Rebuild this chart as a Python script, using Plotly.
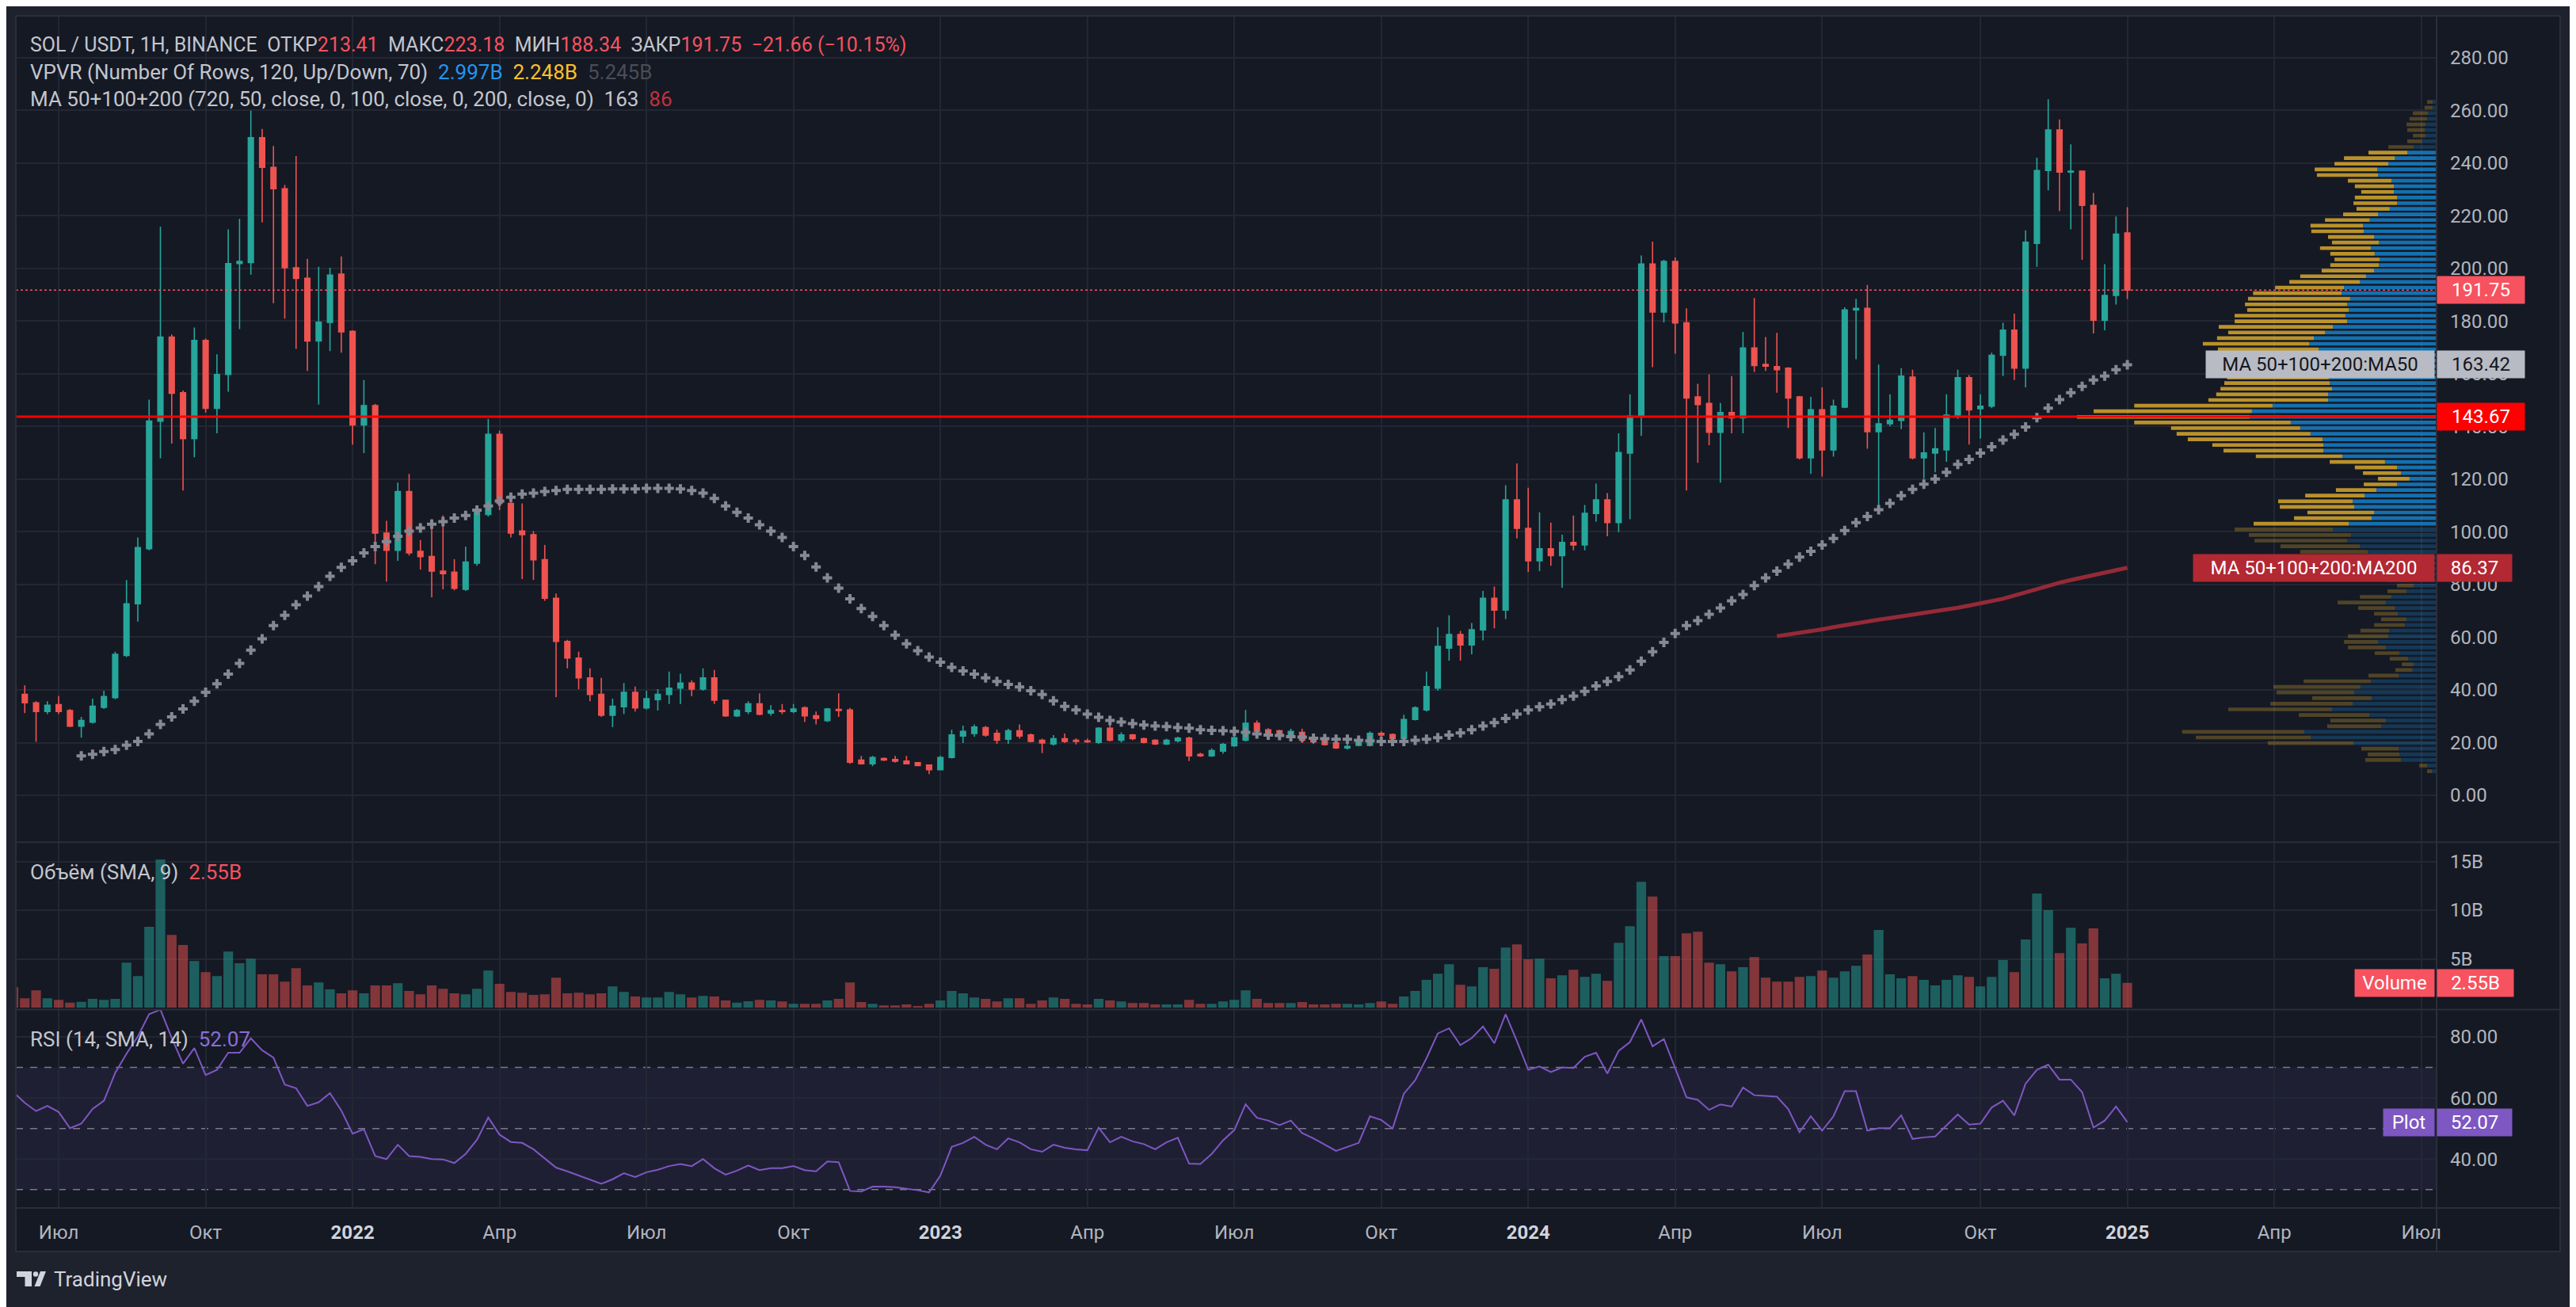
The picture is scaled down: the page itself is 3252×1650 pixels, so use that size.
import pandas as pd
import plotly.graph_objects as go

# weekly SOL/USDT bars, first bar = week of 2021-06-07
START = "2021-06-07"

OPEN = [
    42.0, 38.3, 35.1, 31.8, 34.4, 32.2, 26.3, 27.8, 33.4, 37.1,
    53.1, 72.7, 93.6, 142.0, 173.9, 152.8, 135.4, 172.6, 146.9, 159.7,
    201.8, 202.2, 249.6, 238.3, 230.2, 200.2, 196.2, 172.4, 179.5, 197.8,
    176.1, 140.6, 147.9, 99.5, 93.0, 115.3, 92.6, 90.6, 85.1, 84.7,
    78.2, 88.1, 106.6, 137.0, 110.8, 100.3, 98.9, 89.4, 74.8, 58.4,
    52.1, 44.6, 38.3, 30.4, 33.6, 39.1, 33.2, 36.3, 38.3, 40.7,
    42.6, 40.3, 44.6, 36.1, 30.2, 31.8, 34.7, 31.2, 32.2, 31.8,
    33.2, 30.2, 28.4, 32.6, 32.4, 13.4, 12.0, 14.0, 13.6, 13.0,
    12.4, 11.5, 9.7, 14.4, 22.5, 23.5, 25.7, 23.5, 21.3, 24.5,
    22.9, 20.9, 19.5, 21.5, 20.9, 20.7, 20.1, 25.5, 20.9, 22.9,
    21.5, 20.9, 19.5, 20.7, 21.7, 15.6, 15.0, 16.8, 18.8, 20.9,
    27.4, 24.9, 24.5, 21.9, 23.9, 21.9, 21.3, 19.9, 18.0, 19.0,
    19.0, 23.5, 23.1, 21.5, 28.8, 32.4, 40.7, 55.9, 61.0, 57.1,
    62.8, 74.8, 70.3, 112.1, 101.3, 89.0, 93.6, 91.0, 96.0, 95.0,
    107.0, 112.1, 103.5, 129.9, 143.9, 201.6, 183.4, 202.6, 179.3, 151.2,
    148.7, 137.8, 145.3, 143.3, 169.8, 163.5, 162.7, 162.1, 151.2, 128.1,
    146.3, 131.1, 147.3, 184.2, 184.8, 138.0, 141.0, 142.3, 158.7, 128.1,
    129.9, 131.1, 144.3, 158.5, 146.7, 147.7, 167.0, 176.5, 162.1, 209.5,
    237.1, 252.5, 236.5, 236.9, 223.9, 180.3, 189.7, 213.41,
]
HIGH = [
    42.6, 41.7, 35.7, 35.7, 37.7, 32.8, 29.8, 36.7, 39.7, 54.5,
    81.7, 97.9, 150.2, 215.8, 174.9, 153.6, 177.5, 173.3, 167.4, 214.8,
    218.8, 259.8, 252.9, 246.4, 231.6, 242.6, 203.6, 200.6, 200.2, 204.5,
    176.5, 157.6, 148.5, 104.2, 118.7, 122.0, 96.9, 104.8, 106.2, 89.6,
    94.4, 109.8, 142.9, 138.4, 112.7, 110.8, 100.3, 95.0, 76.6, 59.0,
    54.5, 48.2, 44.6, 36.7, 42.6, 41.3, 39.7, 40.3, 47.0, 46.2,
    43.6, 48.2, 47.6, 36.3, 32.8, 35.7, 38.7, 34.2, 34.7, 34.7,
    33.8, 31.8, 33.2, 38.7, 33.2, 15.0, 15.0, 14.4, 15.0, 15.0,
    12.6, 11.7, 15.0, 24.9, 26.5, 26.9, 26.3, 24.9, 25.3, 26.9,
    23.5, 21.5, 22.9, 23.5, 21.7, 21.5, 25.9, 26.9, 23.9, 23.3,
    21.9, 21.3, 21.5, 22.3, 22.3, 16.2, 17.8, 19.9, 22.9, 32.4,
    28.4, 25.5, 24.9, 25.3, 25.3, 22.9, 21.9, 21.7, 19.9, 21.5,
    24.3, 24.3, 23.5, 30.6, 33.8, 47.0, 63.8, 68.3, 62.4, 65.4,
    77.6, 79.2, 117.7, 126.0, 116.7, 107.4, 103.5, 98.9, 106.2, 110.2,
    118.3, 114.7, 137.4, 152.2, 204.9, 210.1, 203.2, 204.1, 184.8, 156.2,
    159.7, 148.9, 159.1, 175.9, 188.7, 173.9, 175.5, 162.5, 151.6, 151.2,
    154.8, 150.2, 185.2, 188.4, 193.7, 163.5, 152.2, 162.1, 161.5, 137.8,
    139.4, 152.2, 161.5, 159.5, 152.2, 168.0, 179.3, 182.8, 214.4, 242.0,
    264.2, 256.5, 247.0, 237.1, 228.6, 201.6, 219.7, 223.18,
]
LOW = [
    37.7, 31.2, 20.3, 30.8, 30.8, 25.9, 21.9, 27.2, 32.8, 36.5,
    52.5, 65.9, 93.0, 127.9, 133.5, 115.7, 128.3, 145.3, 137.4, 153.2,
    176.9, 197.6, 217.4, 186.8, 180.9, 169.4, 161.1, 148.3, 168.6, 168.0,
    133.1, 129.9, 87.7, 81.1, 89.0, 91.0, 85.7, 75.2, 78.2, 77.8,
    77.6, 87.1, 105.8, 108.2, 97.9, 82.1, 81.7, 73.8, 37.3, 48.2,
    40.3, 35.7, 29.8, 25.9, 30.8, 31.8, 32.6, 32.2, 34.7, 34.7,
    37.7, 39.7, 34.7, 29.8, 29.8, 30.8, 30.4, 30.2, 30.8, 31.2,
    27.8, 26.9, 27.8, 29.8, 12.0, 11.7, 11.1, 13.0, 12.4, 11.8,
    11.1, 8.1, 9.5, 14.0, 19.9, 22.3, 22.3, 19.5, 19.5, 21.5,
    20.1, 16.0, 18.9, 19.9, 19.3, 19.9, 19.5, 20.5, 20.1, 20.9,
    19.7, 19.1, 19.1, 20.1, 13.0, 14.6, 14.6, 15.8, 18.4, 20.5,
    23.7, 22.9, 22.1, 21.3, 19.9, 19.5, 18.9, 17.6, 17.4, 18.6,
    18.6, 22.1, 20.9, 20.9, 28.4, 31.8, 39.7, 51.1, 51.1, 53.5,
    58.8, 63.4, 66.9, 97.5, 84.7, 85.1, 87.1, 78.8, 93.0, 93.0,
    103.9, 98.3, 99.9, 104.8, 136.4, 162.5, 179.5, 167.6, 115.7, 126.2,
    132.9, 118.7, 137.4, 137.4, 160.7, 161.1, 152.8, 139.4, 127.5, 122.0,
    121.0, 128.5, 146.9, 165.5, 131.5, 109.4, 140.0, 139.0, 127.5, 120.0,
    122.6, 126.6, 142.9, 133.1, 135.4, 146.9, 159.1, 157.6, 154.8, 200.6,
    229.6, 221.7, 214.8, 203.2, 175.3, 176.5, 186.2, 188.34,
]
CLOSE = [
    38.3, 35.1, 31.8, 34.2, 31.8, 26.3, 28.4, 33.8, 37.5, 53.5,
    72.7, 94.0, 142.0, 173.9, 152.6, 135.4, 172.6, 146.9, 159.7, 201.8,
    202.6, 249.6, 238.3, 230.2, 200.2, 196.2, 172.4, 179.5, 197.4, 175.9,
    140.6, 147.9, 99.5, 93.0, 115.3, 92.0, 90.6, 85.1, 84.1, 78.6,
    88.5, 108.2, 137.0, 110.8, 99.5, 98.9, 89.4, 74.8, 58.4, 52.1,
    44.6, 38.3, 30.4, 33.8, 39.1, 33.2, 36.7, 38.3, 40.7, 42.6,
    40.3, 44.6, 36.1, 30.2, 32.2, 34.7, 30.8, 32.2, 31.8, 32.8,
    30.2, 29.2, 32.8, 32.2, 12.6, 12.0, 14.4, 13.4, 13.0, 12.0,
    11.3, 9.7, 14.4, 22.9, 24.3, 25.9, 22.9, 20.9, 24.5, 22.5,
    20.5, 19.9, 21.5, 20.5, 20.5, 20.3, 25.5, 20.9, 22.9, 21.5,
    20.1, 19.5, 20.9, 21.7, 15.0, 15.0, 17.0, 19.3, 21.9, 27.4,
    24.3, 23.5, 22.5, 24.3, 20.9, 20.3, 19.3, 18.0, 18.6, 20.5,
    23.5, 22.9, 21.5, 28.8, 33.2, 41.3, 56.5, 61.0, 57.1, 62.8,
    74.8, 70.3, 112.1, 101.3, 89.0, 93.6, 91.0, 96.0, 95.0, 107.0,
    112.1, 103.5, 130.1, 143.9, 201.6, 183.4, 202.6, 179.3, 150.8, 148.3,
    137.8, 145.3, 143.3, 169.8, 163.1, 162.9, 161.5, 150.8, 128.1, 146.3,
    131.1, 147.7, 184.2, 184.8, 138.0, 141.0, 142.3, 159.1, 128.1, 129.9,
    131.5, 144.3, 158.5, 146.3, 147.7, 167.0, 176.5, 162.1, 209.9, 237.1,
    252.5, 236.5, 236.9, 223.9, 180.3, 189.7, 213.0, 191.75,
]
# volume, billions
VOLUME = [
    2.09, 0.95, 1.77, 0.95, 0.79, 0.51, 0.60, 0.89, 0.79, 0.89,
    4.62, 3.23, 8.29, 15.2, 7.47, 6.42, 4.78, 3.64, 3.23, 5.76,
    4.56, 5.03, 3.42, 3.42, 2.66, 4.05, 2.28, 2.59, 1.87, 1.46,
    1.77, 1.46, 2.28, 2.28, 2.50, 1.71, 1.36, 2.28, 1.93, 1.46,
    1.36, 1.93, 3.80, 2.44, 1.61, 1.52, 1.30, 1.36, 3.07, 1.46,
    1.52, 1.36, 1.46, 2.18, 1.61, 1.14, 1.04, 1.04, 1.61, 1.36,
    1.04, 1.20, 1.14, 0.73, 0.51, 0.66, 0.79, 0.73, 0.63, 0.38,
    0.38, 0.38, 0.73, 0.89, 2.59, 0.57, 0.38, 0.22, 0.22, 0.32,
    0.16, 0.38, 0.73, 1.71, 1.46, 1.04, 0.89, 0.63, 0.95, 0.95,
    0.38, 0.73, 1.04, 0.89, 0.38, 0.32, 0.89, 0.73, 0.63, 0.47,
    0.47, 0.32, 0.32, 0.32, 0.79, 0.38, 0.38, 0.63, 0.79, 1.77,
    0.89, 0.47, 0.47, 0.47, 0.57, 0.32, 0.32, 0.38, 0.38, 0.32,
    0.47, 0.63, 0.38, 1.14, 1.71, 2.85, 3.48, 4.46, 2.34, 2.18,
    4.15, 3.99, 6.17, 6.49, 4.97, 5.03, 3.01, 3.32, 3.89, 3.16,
    3.48, 2.75, 6.65, 8.35, 12.9, 11.4, 5.28, 5.28, 7.63, 7.78,
    4.62, 4.46, 3.73, 4.15, 5.19, 3.07, 2.66, 2.66, 3.16, 3.23,
    3.80, 3.07, 3.73, 4.30, 5.44, 7.97, 3.42, 3.01, 3.23, 2.85,
    2.28, 2.85, 3.32, 3.16, 2.18, 3.16, 4.87, 3.64, 6.99, 11.7,
    10.0, 5.60, 8.20, 6.58, 8.13, 3.01, 3.48, 2.55,
]
RSI = [
    61.9, 58.4, 55.7, 57.4, 55.4, 50.1, 51.6, 56.4, 59.1, 68.2,
    74.5, 80.1, 87.4, 88.9, 79.6, 71.2, 76.3, 67.5, 69.2, 74.8,
    74.8, 79.5, 75.6, 73.2, 64.4, 63.2, 57.4, 58.6, 61.6, 55.9,
    48.3, 49.8, 41.0, 40.0, 44.7, 41.0, 40.7, 40.0, 39.9, 38.7,
    41.7, 46.3, 53.6, 48.0, 45.6, 45.3, 43.2, 40.2, 37.2, 36.0,
    34.6, 33.3, 31.9, 33.4, 35.4, 34.1, 35.7, 36.5, 37.7, 38.4,
    37.7, 40.0, 37.0, 34.9, 36.2, 37.9, 36.4, 37.0, 37.0, 37.7,
    36.4, 36.0, 39.2, 39.0, 29.6, 29.4, 31.0, 31.0, 30.8, 30.3,
    29.8, 29.1, 34.6, 44.0, 45.3, 47.3, 44.7, 43.2, 46.8, 45.5,
    43.2, 42.4, 44.7, 43.7, 43.2, 42.9, 50.3, 45.5, 47.3, 45.8,
    44.9, 43.2, 45.5, 47.0, 38.5, 38.4, 41.7, 46.1, 49.5, 57.9,
    53.5, 52.6, 51.1, 52.6, 48.5, 46.8, 44.7, 42.7, 44.0, 45.3,
    54.0, 52.8, 50.0, 61.4, 65.8, 73.0, 81.1, 82.8, 77.3, 79.6,
    83.4, 77.9, 87.4, 78.6, 69.2, 70.3, 68.5, 70.0, 69.8, 73.5,
    74.8, 68.0, 75.4, 78.3, 85.7, 76.9, 79.3, 70.0, 60.2, 59.4,
    56.1, 57.9, 57.2, 63.4, 60.9, 60.7, 60.4, 56.4, 48.8, 54.0,
    49.3, 54.0, 62.2, 62.2, 49.3, 50.1, 50.1, 54.3, 46.6, 47.1,
    47.4, 51.0, 54.6, 51.3, 51.6, 56.9, 59.1, 54.3, 64.7, 69.2,
    70.9, 66.0, 66.0, 61.9, 50.3, 52.6, 57.2, 52.07,
]
MA50 = [None] * 6 + [
    15.0, 15.6, 16.6, 17.4, 19.0, 20.5, 23.3, 26.9, 29.8, 32.8,
    35.7, 39.1, 42.3, 46.0, 50.1, 55.1, 59.4, 64.4, 68.3, 72.3,
    75.6, 79.2, 83.1, 86.5, 89.0, 92.0, 94.4, 96.3, 98.3, 100.3,
    101.5, 102.9, 103.9, 105.2, 106.2, 108.2, 109.8, 111.7, 113.1, 114.3,
    114.7, 115.3, 115.7, 116.1, 116.1, 116.1, 116.1, 116.3, 116.3, 116.3,
    116.5, 116.5, 116.5, 116.3, 115.7, 114.7, 112.7, 109.8, 107.4, 105.2,
    102.7, 100.3, 97.9, 94.4, 91.0, 86.7, 82.5, 78.6, 74.6, 70.9,
    67.9, 64.4, 60.8, 57.5, 54.9, 52.5, 50.5, 48.6, 47.2, 46.0,
    44.6, 43.2, 42.1, 41.1, 39.7, 38.3, 35.9, 33.8, 32.4, 30.8,
    29.6, 28.4, 27.8, 27.2, 26.7, 26.3, 26.1, 25.7, 25.5, 24.9,
    24.7, 24.5, 24.3, 23.9, 23.3, 22.9, 22.7, 22.3, 22.1, 21.7,
    21.5, 21.3, 21.3, 20.9, 20.7, 20.5, 20.5, 20.5, 20.9, 21.3,
    21.9, 22.9, 23.7, 24.9, 26.3, 27.6, 29.2, 30.8, 32.4, 33.6,
    34.7, 36.3, 37.7, 39.5, 41.5, 43.2, 45.0, 47.6, 50.9, 54.5,
    58.0, 61.4, 64.4, 66.3, 68.7, 71.1, 73.8, 76.2, 79.6, 82.5,
    85.1, 87.7, 90.4, 92.6, 95.0, 97.5, 100.5, 103.5, 105.8, 108.4,
    110.8, 113.7, 116.1, 118.1, 120.0, 122.6, 125.6, 127.5, 129.9, 132.3,
    134.8, 137.0, 139.8, 143.3, 146.9, 150.2, 152.8, 155.2, 157.6, 159.1,
    161.5, 163.42,
]
MA200 = [None] * 156 + [
    60.4, 61.0, 61.6, 62.3, 63.0, 63.8, 64.6, 65.4, 66.1, 66.7,
    67.3, 67.9, 68.5, 69.1, 69.8, 70.5, 71.2, 72.0, 72.8, 73.6,
    74.6, 75.8, 77.1, 78.4, 79.6, 80.7, 81.7, 82.6, 83.5, 84.4,
    85.4, 86.37,
]
# VPVR, 120 rows from the lowest low to the highest high, billions
VP_UP = [
    0.154, 0.308, 1.159, 1.205, 1.232, 2.699, 4.086, 4.294, 1.802, 1.648,
    2.183, 3.396, 2.726, 2.110, 2.672, 2.473, 2.137, 1.232, 0.788, 0.743,
    0.924, 1.205, 1.648, 1.902, 1.567, 1.540, 1.032, 0.978, 1.259, 1.359,
    1.648, 1.467, 0.978, 0.743, 0.90, 1.20, 1.50, 1.80, 2.00, 2.237,
    2.491, 2.907, 2.781, 3.369, 2.853, 2.110, 2.029, 2.672, 2.726, 2.337,
    1.956, 1.286, 0.879, 1.159, 1.286, 1.676, 3.061, 3.677, 3.677, 3.704,
    4.094, 4.429, 4.737, 6.068, 5.996, 5.326, 3.523, 3.523, 3.396, 3.469,
    3.50, 3.60, 3.70, 3.60, 3.80, 3.831, 4.139, 3.985, 3.623, 3.369,
    2.907, 2.962, 2.853, 2.907, 2.808, 3.088, 3.007, 2.491, 2.291, 2.029,
    1.875, 1.848, 2.011, 2.137, 1.875, 2.029, 2.364, 2.391, 2.174, 1.902,
    1.522, 1.286, 1.286, 1.386, 1.386, 1.467, 1.902, 1.929, 1.567, 1.359,
    0.951, 0.743, 0.489, 0.362, 0.380, 0.362, 0.308, 0.281, 0.136, 0.127,
]
VP_DOWN = [
    0.154, 0.254, 1.159, 1.032, 1.214, 2.781, 3.731, 3.967, 1.748, 1.802,
    2.291, 3.369, 2.672, 1.929, 2.527, 2.826, 2.183, 0.978, 0.552, 0.389,
    0.598, 0.806, 1.232, 1.105, 1.313, 0.933, 0.996, 0.824, 0.770, 1.186,
    1.567, 1.023, 0.616, 0.543, 0.70, 0.90, 1.20, 1.60, 1.90, 2.192,
    2.581, 3.007, 3.315, 3.188, 3.088, 2.518, 2.165, 2.418, 2.418, 1.929,
    1.313, 1.078, 1.023, 1.232, 1.368, 1.793, 2.808, 3.242, 3.605, 4.375,
    4.347, 4.194, 5.080, 5.610, 5.140, 4.490, 3.886, 3.632, 3.623, 3.424,
    3.30, 3.20, 3.40, 3.30, 3.20, 3.270, 3.451, 3.143, 3.143, 3.704,
    3.650, 3.596, 3.297, 3.315, 3.315, 2.871, 2.237, 2.291, 2.137, 1.703,
    1.576, 1.467, 1.440, 1.648, 1.522, 1.494, 1.703, 1.703, 1.449, 1.132,
    1.078, 1.413, 1.368, 1.060, 1.268, 1.413, 1.984, 2.029, 1.748, 1.648,
    1.259, 0.824, 0.462, 0.408, 0.571, 0.616, 0.571, 0.489, 0.254, 0.181,
]
VALUE_AREA = (44, 110)  # row indexes inside the 70% value area
POC_LINE = 143.67
MONTHS = {4: "Апр", 7: "Июл", 10: "Окт"}

###############################################################################
# geometry helpers (pixels of the reference page -> paper fractions)
###############################################################################
FIG_W, FIG_H = 3252, 1650
PAGE_OFF = 8  # the page body adds this offset around the figure
X_LEFT, X_RIGHT, Y_TOP, Y_BOTTOM = 20, 3076, 20, 1525  # plot area in page pixels
PW, PH = X_RIGHT - X_LEFT, Y_BOTTOM - Y_TOP
ML, MT = X_LEFT - PAGE_OFF, Y_TOP - PAGE_OFF
MR, MB = FIG_W - PW - ML, FIG_H - PH - MT


def fx(x):
    return (x - X_LEFT) / PW


def fy(y):
    return (Y_BOTTOM - y) / PH


BG = "#151924"
OUTER = "#1e222d"
GRID = "#232733"
SEP = "#2a2e39"
TXT = "#b2b5be"
HEAD = "#c3c6cd"
UP = "#26a69a"
DOWN = "#ef5350"
RED = "#f7525f"
FONT = "Roboto"

dates = pd.date_range(START, periods=len(CLOSE), freq="7D")
t0 = pd.Timestamp(START)
x_range = [str(t0 + pd.Timedelta(days=1.47)), str(t0 + pd.Timedelta(days=1500.5))]

# time axis labels sit on the first weekly bar of every quarter
weeks = pd.date_range(START, "2025-08-31", freq="7D")
tickvals, ticktext = [], []
for yr in range(2021, 2026):
    for m in (1, 4, 7, 10):
        cand = weeks[(weeks.year == yr) & (weeks.month == m)]
        if len(cand) == 0 or cand[0] > pd.Timestamp(x_range[1]):
            continue
        tickvals.append(cand[0])
        if m == 1:
            ticktext.append(f"<span style='color:#d1d4dc'><b>{yr}</b></span>")
        else:
            ticktext.append(MONTHS[m])

###############################################################################
# traces
###############################################################################
lo, hi = min(LOW), max(HIGH)
step = (hi - lo) / len(VP_UP)
rows = [lo + step * (k + 0.5) for k in range(len(VP_UP))]
inside = [VALUE_AREA[0] <= k <= VALUE_AREA[1] for k in range(len(VP_UP))]
up_cols = ["rgba(21,146,230,0.72)" if v else "rgba(21,146,230,0.26)" for v in inside]
dn_cols = ["rgba(251,192,45,0.72)" if v else "rgba(251,192,45,0.26)" for v in inside]

fig = go.Figure()
fig.add_trace(go.Bar(
    y=rows, x=VP_UP, base=0, orientation="h", width=step * 0.66,
    marker=dict(color=up_cols, line_width=0), xaxis="x2", yaxis="y",
))
fig.add_trace(go.Bar(
    y=rows, x=VP_DOWN, base=VP_UP, orientation="h", width=step * 0.66,
    marker=dict(color=dn_cols, line_width=0), xaxis="x2", yaxis="y",
))
fig.add_trace(go.Candlestick(
    x=dates, open=OPEN, high=HIGH, low=LOW, close=CLOSE,
    increasing=dict(line=dict(color=UP, width=1.6), fillcolor=UP),
    decreasing=dict(line=dict(color=DOWN, width=1.6), fillcolor=DOWN),
    whiskerwidth=0, xaxis="x", yaxis="y",
))
fig.add_trace(go.Scatter(
    x=dates, y=MA200, mode="lines", line=dict(color="#952a37", width=5),
    xaxis="x", yaxis="y",
))
fig.add_trace(go.Scatter(
    x=dates, y=MA50, mode="markers",
    marker=dict(symbol="cross", size=10, color="#868993", line_width=0),
    xaxis="x", yaxis="y",
))
vol_cols = ["rgba(38,166,154,0.5)" if c >= o else "rgba(239,83,80,0.5)"
            for o, c in zip(OPEN, CLOSE)]
fig.add_trace(go.Bar(
    x=dates, y=VOLUME, marker=dict(color=vol_cols, line_width=0),
    width=6 * 86400000, xaxis="x", yaxis="y2",
))
fig.add_trace(go.Scatter(
    x=dates, y=RSI, mode="lines", line=dict(color="#7e57c2", width=2),
    xaxis="x", yaxis="y3",
))

###############################################################################
# layout
###############################################################################
tick_font = dict(family=FONT, size=24, color=TXT)
yax = dict(side="right", anchor="x", showgrid=True, gridcolor=GRID, gridwidth=1.5,
           zeroline=False, showline=False, ticks="", tickfont=tick_font,
           ticklabelstandoff=16, automargin=False, fixedrange=True)

shapes = [
    dict(type="rect", xref="paper", yref="paper", x0=fx(20), x1=fx(3232),
         y0=fy(1580), y1=fy(20), fillcolor=BG, line_width=0, layer="below"),
    dict(type="rect", xref="paper", yref="y3", x0=0, x1=1, y0=30, y1=70,
         fillcolor="rgba(126,87,194,0.1)", line_width=0, layer="below"),
]
for lvl in (70, 50, 30):
    shapes.append(dict(type="line", xref="paper", yref="y3", x0=0, x1=1, y0=lvl, y1=lvl,
                       line=dict(color="#787b86", width=1.5, dash="dash"), layer="between"))
shapes += [
    dict(type="line", xref="paper", yref="y", x0=0, x1=1, y0=CLOSE[-1], y1=CLOSE[-1],
         line=dict(color=RED, width=1.5, dash="dot")),
    dict(type="line", xref="paper", yref="y", x0=0, x1=1, y0=POC_LINE, y1=POC_LINE,
         line=dict(color="#ff0000", width=3)),
]
for yy in (1063.3, 1274.6, 1525, 1580, 20):
    shapes.append(dict(type="line", xref="paper", yref="paper", x0=fx(20), x1=fx(3232),
                       y0=fy(yy), y1=fy(yy), line=dict(color=SEP, width=2)))
for xx in (20, 3076, 3232):
    shapes.append(dict(type="line", xref="paper", yref="paper", x0=fx(xx), x1=fx(xx),
                       y0=fy(1580), y1=fy(20), line=dict(color=SEP, width=2)))
# TradingView logo mark
LOGO = "#d1d4dc"
shapes += [
    dict(type="rect", xref="paper", yref="paper", x0=fx(21), x1=fx(40),
         y0=fy(1612), y1=fy(1605), fillcolor=LOGO, line_width=0),
    dict(type="rect", xref="paper", yref="paper", x0=fx(31.5), x1=fx(40),
         y0=fy(1624), y1=fy(1605), fillcolor=LOGO, line_width=0),
    dict(type="circle", xref="paper", yref="paper", x0=fx(41.8), x1=fx(48.2),
         y0=fy(1611.7), y1=fy(1605.3), fillcolor=LOGO, line_width=0),
    dict(type="path", xref="paper", yref="paper", fillcolor=LOGO, line_width=0,
         path=f"M {fx(43.5)},{fy(1624)} L {fx(50.5)},{fy(1624)} L {fx(58)},{fy(1605)} "
              f"L {fx(51)},{fy(1605)} Z"),
]


def span(txt, col):
    return f"<span style='color:{col}'>{txt}</span>"


def text_line(x, y, txt, size=26, col=HEAD):
    return dict(x=fx(x), y=fy(y), xref="paper", yref="paper", xanchor="left",
                yanchor="middle", showarrow=False, text=txt,
                font=dict(family=FONT, size=size, color=col))


def tag(y, yref, txt, bg, fg, w, side="left", shift=0):
    return dict(x=1, xref="paper", y=y, yref=yref, xanchor=side, yanchor="middle",
                xshift=shift, showarrow=False, text=txt, bgcolor=bg, width=w, height=30,
                borderpad=2, align="center", font=dict(family=FONT, size=24, color=fg))


sp = "\u00a0\u00a0"
annotations = [
    text_line(36, 56, "SOL / USDT, 1H, BINANCE" + sp + "ОТКР" + span("213.41", RED) + sp
              + "МАКС" + span("223.18", RED) + sp + "МИН" + span("188.34", RED) + sp
              + "ЗАКР" + span("191.75", RED) + sp + span("\u221221.66 (\u221210.15%)", RED),
              size=25),
    text_line(36, 91, "VPVR (Number Of Rows, 120, Up/Down, 70)" + sp + span("2.997B", "#2196f3")
              + sp + span("2.248B", "#fbc02d") + sp + span("5.245B", "#4a4d57")),
    text_line(36, 125, "MA 50+100+200 (720, 50, close, 0, 100, close, 0, 200, close, 0)" + sp
              + "163" + sp + span("86", "#c2303c")),
    text_line(36, 1101, "Объём (SMA, 9)" + sp + span("2.55B", RED)),
    text_line(36, 1312, "RSI (14, SMA, 14)" + sp + span("52.07", "#8e6cd6")),
    text_line(66, 1615, "TradingView", size=26, col=LOGO),
    tag(CLOSE[-1], "y", "191.75", RED, "#ffffff", 106),
    tag(MA50[-1], "y", "163.42", "#b8bbc3", "#131722", 106),
    tag(MA50[-1], "y", "MA 50+100+200:MA50", "#b8bbc3", "#131722", 284, "right", -2),
    tag(POC_LINE, "y", "143.67", "#ff0000", "#ffffff", 106),
    tag(MA200[-1], "y", "86.37", "#b22833", "#ffffff", 90),
    tag(MA200[-1], "y", "MA 50+100+200:MA200", "#b22833", "#ffffff", 300, "right", -2),
    tag(VOLUME[-1], "y2", "2.55B", RED, "#ffffff", 92),
    tag(VOLUME[-1], "y2", "Volume", RED, "#ffffff", 96, "right", -2),
    tag(RSI[-1], "y3", "52.07", "#7e57c2", "#ffffff", 90),
    tag(RSI[-1], "y3", "Plot", "#7e57c2", "#ffffff", 60, "right", -2),
]

fig.update_layout(
    width=FIG_W, height=FIG_H,
    margin=dict(l=ML, r=MR, t=MT, b=MB),
    paper_bgcolor=OUTER, plot_bgcolor="rgba(0,0,0,0)",
    font=dict(family=FONT, color=TXT),
    showlegend=False, hovermode=False, barmode="overlay", boxgap=0.35,
    xaxis=dict(domain=[0, 1], anchor="y3", type="date", range=x_range,
               tickvals=tickvals, ticktext=ticktext, showgrid=True, gridcolor=GRID,
               gridwidth=1.5, zeroline=False, showline=False, ticks="",
               tickfont=tick_font, ticklabelstandoff=14, automargin=False,
               rangeslider=dict(visible=False), fixedrange=True),
    xaxis2=dict(overlaying="x", anchor="y", range=[PW * 0.02572, 0], visible=False,
                showgrid=False, fixedrange=True),
    yaxis=dict(domain=[fy(1063.3), 1], range=[-17.8, 295.8], tick0=0, dtick=20,
               tickformat=".2f", **yax),
    yaxis2=dict(domain=[fy(1274.6), fy(1063.3)], range=[-0.21, 16.97],
                tickvals=[5, 10, 15], ticktext=["5B", "10B", "15B"], **yax),
    yaxis3=dict(domain=[0, fy(1274.6)], range=[24.0, 88.9], tickvals=[40, 60, 80],
                tickformat=".2f", **yax),
    shapes=shapes,
    annotations=annotations,
)

fig.write_html("out.html")
